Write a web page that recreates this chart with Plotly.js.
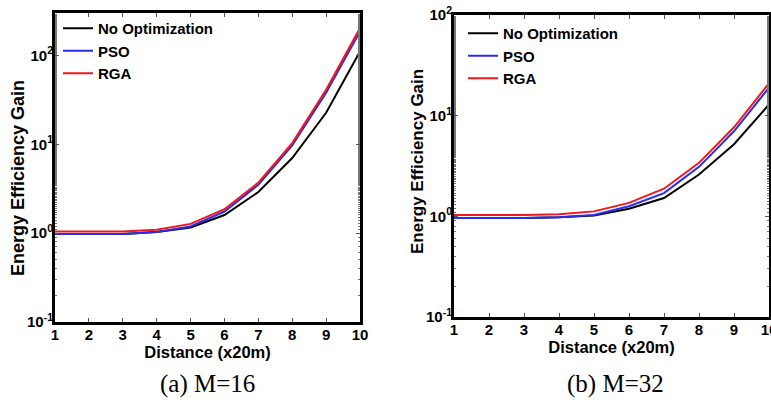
<!DOCTYPE html>
<html>
<head>
<meta charset="utf-8">
<script src="https://cdn.plot.ly/plotly-3.0.1.min.js"></script>
<style>html,body{margin:0;padding:0;background:#fff;}#chart{width:771px;height:400px;}</style>
</head>
<body>
<div id="chart"></div>
<script>
// Data
const distance = [1, 2, 3, 4, 5, 6, 7, 8, 9, 10];
const seriesNames = ["No Optimization", "PSO", "RGA"];
// (a) M=16
const noOptM16 = [0.98, 0.98, 0.98, 1.03, 1.16, 1.6, 2.9, 7.0, 22.6, 111];
const psoM16   = [0.98, 0.98, 0.98, 1.03, 1.19, 1.75, 3.5, 9.7, 38, 186];
const rgaM16   = [1.04, 1.04, 1.04, 1.09, 1.27, 1.86, 3.7, 10.3, 41, 203];
// (b) M=32
const noOptM32 = [0.96, 0.96, 0.96, 0.98, 1.02, 1.19, 1.52, 2.6, 5.2, 12.9];
const psoM32   = [0.96, 0.96, 0.96, 0.98, 1.03, 1.26, 1.7, 3.1, 7.0, 19];
const rgaM32   = [1.03, 1.03, 1.03, 1.05, 1.12, 1.36, 1.88, 3.4, 7.66, 21];
// Ticks
const xTicks = [1, 2, 3, 4, 5, 6, 7, 8, 9, 10];
const yTickVals = [0.1, 1, 10, 100];
const yTickText = ["10<sup>-1</sup>", "10<sup>0</sup>", "10<sup>1</sup>", "10<sup>2</sup>"];
const xTitle = "Distance (x20m)";
const yTitle = "Energy Efficiency Gain";
const captions = ["(a) M=16", "(b) M=32"];

const colors = ["#000000", "#2b2bf0", "#f01818"];
const boldFont = {family: "Liberation Sans, Arial, sans-serif", weight: "bold", color: "#000"};
const serif = {family: "Liberation Serif, Times New Roman, serif", size: 25, color: "#000"};

function mk(y, i, xa, ya, leg) {
  return {x: distance, y: y, name: seriesNames[i], mode: "lines", xaxis: xa, yaxis: ya,
    line: {color: colors[i], width: 2}, legend: leg};
}
const traces = [
  mk(noOptM16, 0, "x", "y", "legend"), mk(psoM16, 1, "x", "y", "legend"), mk(rgaM16, 2, "x", "y", "legend"),
  mk(noOptM32, 0, "x2", "y2", "legend2"), mk(psoM32, 1, "x2", "y2", "legend2"), mk(rgaM32, 2, "x2", "y2", "legend2")
];

function xax(domain, anchor) {
  return {domain: domain, anchor: anchor, range: [1, 10], tickvals: xTicks, ticktext: xTicks.map(String),
    ticks: "inside", ticklen: 4, tickwidth: 1, tickcolor: "#555", showline: true, linewidth: 3, linecolor: "#000",
    mirror: "ticks", showgrid: false, zeroline: false, tickfont: Object.assign({size: 15}, boldFont),
    ticklabeloverflow: "allow", ticklabelstandoff: -3,
    title: {text: xTitle, font: Object.assign({size: 16.5}, boldFont), standoff: 4}};
}
function yax(domain, anchor, range) {
  return {domain: domain, anchor: anchor, type: "log", range: range, tickvals: yTickVals, ticktext: yTickText,
    ticks: "inside", ticklen: 4, tickwidth: 1, tickcolor: "#555", showline: true, linewidth: 3, linecolor: "#000",
    mirror: "ticks", showgrid: false, zeroline: false, tickfont: Object.assign({size: 15}, boldFont),
    ticklabelstandoff: -4,
    minor: {ticks: "inside", ticklen: 2, tickcolor: "#777", showgrid: false}};
}

const legendBase = {bgcolor: "rgba(0,0,0,0)", borderwidth: 0, itemwidth: 30, tracegroupgap: 0,
  font: Object.assign({size: 15}, boldFont), xanchor: "left", yanchor: "top"};

const layout = {
  width: 771, height: 400, margin: {l: 0, r: 0, t: 0, b: 0},
  paper_bgcolor: "#fff", plot_bgcolor: "#fff", showlegend: true,
  xaxis: xax([55/771, 360/771], "y"),
  yaxis: yax([1 - 322/400, 1 - 13/400], "x", [-1, Math.log10(300)]),
  xaxis2: xax([454/771, 769/771], "y2"),
  yaxis2: yax([1 - 317/400, 1 - 15/400], "x2", [-1, 2]),
  legend: Object.assign({x: 58/771, y: 1 - 12/400}, legendBase),
  legend2: Object.assign({x: 463/771, y: 1 - 17/400}, legendBase),
  annotations: [
    {text: yTitle, x: 18/771, y: 1 - 178/400, xref: "paper", yref: "paper", showarrow: false, textangle: -90,
     xanchor: "center", yanchor: "middle", font: Object.assign({size: 18}, boldFont)},
    {text: yTitle, x: 417/771, y: 1 - 162/400, xref: "paper", yref: "paper", showarrow: false, textangle: -90,
     xanchor: "center", yanchor: "middle", font: Object.assign({size: 17}, boldFont)},
    {text: captions[0], x: 207/771, y: 1 - 384/400, xref: "paper", yref: "paper", showarrow: false,
     xanchor: "center", yanchor: "middle", font: serif},
    {text: captions[1], x: 615/771, y: 1 - 384/400, xref: "paper", yref: "paper", showarrow: false,
     xanchor: "center", yanchor: "middle", font: serif}
  ]
};

Plotly.newPlot("chart", traces, layout, {staticPlot: true, displayModeBar: false});
</script>
</body>
</html>
